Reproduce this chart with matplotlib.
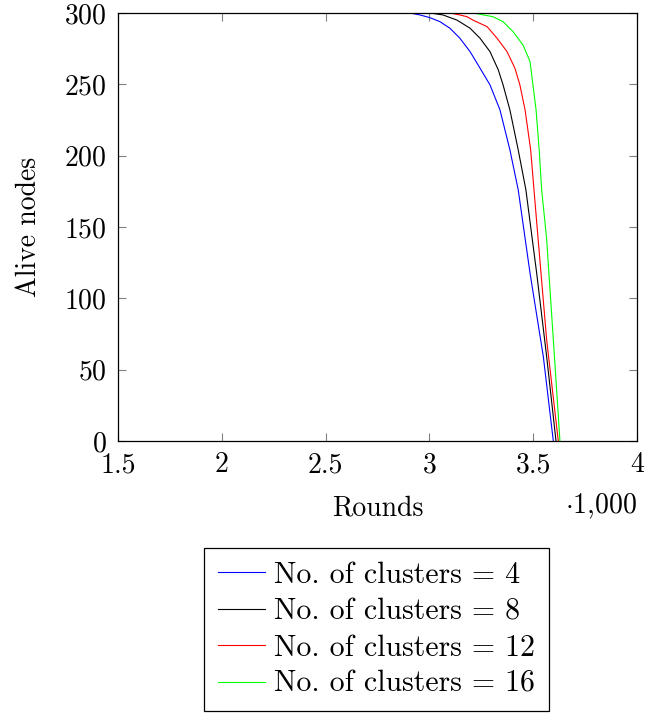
import numpy as np
import matplotlib
matplotlib.use('Agg')
import matplotlib.pyplot as plt

plt.rcParams['font.family'] = 'serif'
plt.rcParams['font.serif'] = ['cmr10']
plt.rcParams['mathtext.fontset'] = 'cm'
plt.rcParams['axes.formatter.use_mathtext'] = True

# rounds vs alive nodes
x_c4 = [1500, 2907, 2955, 3003, 3051, 3099, 3147, 3196, 3244, 3292, 3340,
        3388, 3428, 3485, 3549, 3597]
y_c4 = [300, 300, 298.6, 296.7, 293.9, 289.3, 282.3, 272.9, 261.3, 249.6,
        232.1, 204, 176, 117.5, 59.1, 0]

x_c8 = [1500, 3003, 3066, 3133, 3196, 3244, 3292, 3332, 3355, 3388, 3428,
        3465, 3517, 3565, 3610]
y_c8 = [300, 300, 298.6, 295, 289.3, 282.3, 272.9, 260.1, 249.6, 232, 204,
        176, 117.5, 59.1, 0]

x_c12 = [1500, 3099, 3147, 3181, 3210, 3278, 3326, 3374, 3412, 3436, 3461,
         3488, 3504, 3517, 3565, 3621]
y_c12 = [300, 300, 298.6, 297.4, 295, 290.4, 282.3, 272.9, 261.3, 249.6,
         232, 204, 176, 153.3, 70.9, 0]

x_c16 = [1500, 3210, 3306, 3355, 3403, 3451, 3485, 3499, 3514, 3529, 3541,
         3565, 3597, 3629]
y_c16 = [300, 300, 297.4, 293.9, 286.9, 277.6, 265.9, 249.6, 232, 204, 176,
         141.4, 71.3, 0]

labels = ['No. of clusters = 4', 'No. of clusters = 8',
          'No. of clusters = 12', 'No. of clusters = 16']
colors = ['#0000ff', '#000000', '#ff0000', '#00ff00']

xticks = [1500, 2000, 2500, 3000, 3500, 4000]
xticklabels = ['1.5', '2', '2.5', '3', '3.5', '4']
yticks = [0, 50, 100, 150, 200, 250, 300]

fig = plt.figure(figsize=(6.46, 7.13), dpi=100)
ax = fig.add_axes([0.1827, 0.3815, 0.8033, 0.6003])

series = [(x_c4, y_c4), (x_c8, y_c8), (x_c12, y_c12), (x_c16, y_c16)]
for (xs, ys), lab, col in zip(series, labels, colors):
    ax.plot(xs, ys, color=col, lw=0.8, label=lab, solid_joinstyle='round')

ax.set_xlim(1500, 4000)
ax.set_ylim(0, 300)
ax.set_xticks(xticks)
ax.set_xticklabels(xticklabels)
ax.set_yticks(yticks)
ax.tick_params(direction='in', length=6, width=0.8, color='#808080',
               top=True, right=True, labelsize=20, pad=8)
for s in ax.spines.values():
    s.set_linewidth(0.9)

ax.set_xlabel('Rounds', fontsize=20, labelpad=12)
ax.set_ylabel('Alive nodes', fontsize=20, labelpad=16)
ax.text(1.0, -0.118, r'$\cdot$1,000', transform=ax.transAxes, fontsize=20,
        ha='right', va='top')

leg = ax.legend(loc='upper center', bbox_to_anchor=(0.498, -0.25), fontsize=21.5,
                fancybox=False, edgecolor='black', framealpha=1,
                handlelength=1.6, handletextpad=0.3, borderpad=0.45,
                labelspacing=0.3, borderaxespad=0)
leg.get_frame().set_linewidth(0.9)

fig.savefig('out.png', dpi=100)
